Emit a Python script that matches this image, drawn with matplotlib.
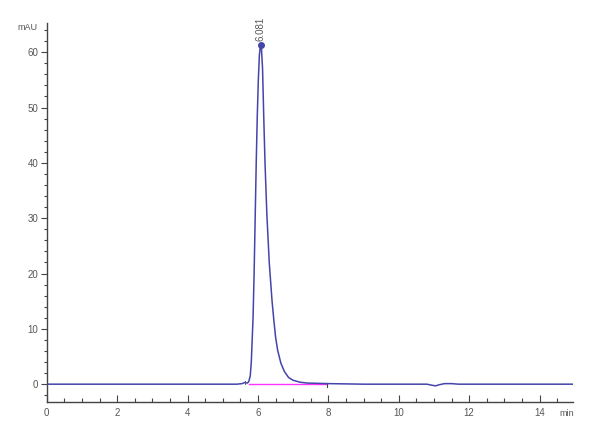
import matplotlib
matplotlib.use("Agg")
import matplotlib.pyplot as plt
from matplotlib.ticker import MultipleLocator

plt.rcParams['font.family'] = ['Liberation Sans Narrow', 'Liberation Sans', 'DejaVu Sans']

# Chromatogram trace (time in min, signal in mAU)
time_min = [0.0, 5.40, 5.55, 5.62, 5.70, 5.74, 5.78, 5.81, 5.835, 5.86, 5.89,
            5.92, 5.95, 5.98, 6.01, 6.04, 6.065, 6.081, 6.10, 6.13, 6.165,
            6.20, 6.25, 6.32, 6.40, 6.45, 6.50, 6.56, 6.65, 6.75, 6.87, 7.00,
            7.20, 7.40, 7.70, 8.00, 8.50, 9.00, 10.80, 10.95, 11.05, 11.15,
            11.30, 11.50, 11.70, 15.0]
signal_mau = [0.0, 0.0, 0.1, 0.3, 0.2, 0.5, 1.5, 4.0, 8.0, 12.0, 20.0,
              30.0, 40.0, 48.5, 55.0, 59.5, 61.0, 61.3, 60.5, 57.0, 48.0,
              40.0, 31.0, 22.0, 15.0, 11.6, 8.5, 6.1, 3.8, 2.3, 1.2, 0.7,
              0.35, 0.2, 0.15, 0.1, 0.05, 0.0, 0.0, -0.2, -0.3, -0.1,
              0.1, 0.1, 0.0, 0.0]

peak_time = 6.081
peak_height = 61.3
peak_label = "6.081"

baseline_start = [5.75, 0.05]
baseline_end = [7.95, 0.05]

x_ticks = [0, 2, 4, 6, 8, 10, 12, 14]
y_ticks = [0, 10, 20, 30, 40, 50, 60]

line_color = '#4444aa'
text_color = '#555555'
axis_color = '#444444'

fig = plt.figure(figsize=(6.0, 4.4), dpi=100)
ax = fig.add_axes([0.078, 0.086, 0.877, 0.862])

ax.plot(time_min, signal_mau, color=line_color, lw=1.1, zorder=3)
ax.plot([baseline_start[0], baseline_end[0]], [baseline_start[1], baseline_end[1]],
        color='#ff33ff', lw=1.0, zorder=2)
# integration markers
ax.plot([baseline_end[0], baseline_end[0]], [-0.6, 0.3], color=axis_color, lw=0.8, zorder=2)
ax.plot([5.62, 5.62], [0.0, 0.6], color=axis_color, lw=0.6, zorder=2)

ax.plot([peak_time], [peak_height], 'o', color=line_color, ms=4, zorder=4)
ax.text(peak_time, peak_height + 0.8, peak_label, rotation=90, ha='center', va='bottom',
        fontsize=7, color=text_color)

ax.set_xlim(0, 14.95)
ax.set_ylim(-3.25, 65.3)

ax.set_xticks(x_ticks)
ax.set_yticks(y_ticks)
ax.xaxis.set_minor_locator(MultipleLocator(0.5))
ax.yaxis.set_minor_locator(MultipleLocator(2))

ax.tick_params(axis='x', which='major', direction='in', length=5, width=0.8,
               colors=axis_color, labelcolor=text_color, labelsize=7, pad=4)
ax.tick_params(axis='x', which='minor', direction='in', length=3, width=0.8, colors=axis_color)
ax.tick_params(axis='y', which='major', direction='out', length=4, width=0.8,
               colors=axis_color, labelcolor=text_color, labelsize=7, pad=2)
ax.tick_params(axis='y', which='minor', direction='out', length=2.5, width=0.8, colors=axis_color)

for s in ['top', 'right']:
    ax.spines[s].set_visible(False)
for s in ['left', 'bottom']:
    ax.spines[s].set_color(axis_color)
    ax.spines[s].set_linewidth(1.0)

fig.text(0.062, 0.938, "mAU", ha='right', va='center', fontsize=6.5, color=text_color)
fig.text(0.945, 0.061, "min", ha='center', va='center', fontsize=6.5, color=text_color)

fig.savefig("out.png", dpi=100, facecolor='white')
